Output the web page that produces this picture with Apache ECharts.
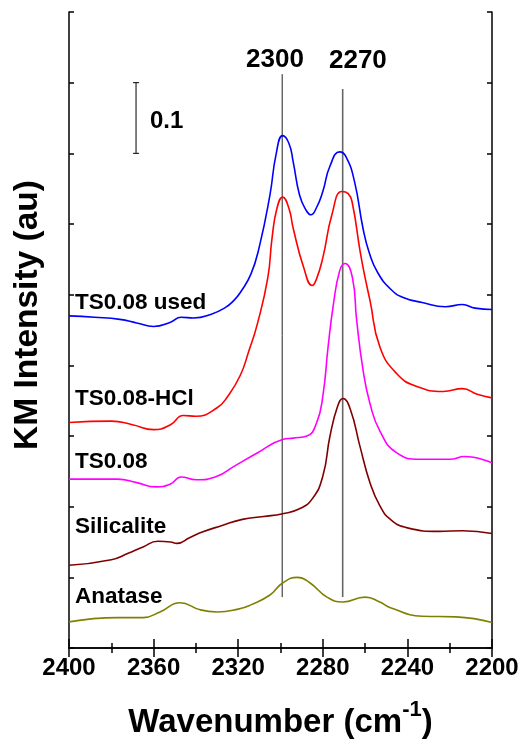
<!DOCTYPE html>
<html>
<head>
<meta charset="utf-8">
<script src="https://cdn.jsdelivr.net/npm/echarts@6/dist/echarts.min.js"></script>
<style>
html,body{margin:0;padding:0;background:#fff;}
#c{width:524px;height:744px;}
</style>
</head>
<body>
<div id="c"></div>
<script>
// ---- data (wavenumber in cm-1, KM intensity in au) ----
var usedX = [2400,2388,2376,2368,2360,2352,2347,2341,2333,2326,2322,2319,2314,2310,2305,2302,2299,2296,2294,2291,2288,2285.6,2283,2280,2276.6,2272,2269,2265,2261,2258,2254,2248,2242,2233,2222,2214,2208,2200];
var usedY = [0.470,0.468,0.465,0.460,0.455,0.461,0.468,0.467,0.472,0.482,0.492,0.503,0.529,0.568,0.641,0.700,0.725,0.714,0.688,0.641,0.620,0.613,0.623,0.646,0.682,0.702,0.695,0.660,0.594,0.559,0.531,0.508,0.496,0.489,0.483,0.486,0.481,0.479];

var hclX = [2400,2380,2370,2360,2352,2346,2340,2330,2325,2319,2315,2311,2306,2304,2301.7,2299,2296,2294,2289,2285,2283,2280,2275.7,2271,2268,2266,2262.4,2260,2257.7,2253,2245,2235.5,2223,2214,2207,2200];
var hclY = [0.319,0.321,0.316,0.309,0.316,0.329,0.328,0.340,0.356,0.386,0.420,0.458,0.524,0.580,0.622,0.638,0.622,0.594,0.538,0.513,0.522,0.552,0.613,0.646,0.643,0.629,0.562,0.524,0.492,0.426,0.388,0.370,0.363,0.367,0.359,0.354];

var ts08X = [2400,2377,2368,2359,2352,2347,2340,2330,2322,2311,2299,2294,2287.5,2283,2280,2277.5,2275,2272,2269.5,2266,2264,2261,2257.7,2253,2245,2234,2220,2213,2200];
var ts08Y = [0.239,0.239,0.234,0.228,0.232,0.242,0.238,0.243,0.257,0.276,0.295,0.297,0.300,0.318,0.356,0.426,0.486,0.534,0.544,0.524,0.464,0.394,0.346,0.307,0.276,0.267,0.267,0.271,0.262];

var silX = [2400,2380,2372,2365,2358,2352,2349,2343,2337,2328,2318,2308,2299,2291,2285,2280,2276.6,2273,2270.5,2267,2262.4,2257.7,2253,2248,2240,2225,2214,2200];
var silY = [0.117,0.125,0.134,0.143,0.151,0.150,0.148,0.156,0.164,0.173,0.182,0.186,0.190,0.197,0.211,0.243,0.300,0.342,0.353,0.338,0.285,0.234,0.201,0.182,0.170,0.165,0.166,0.162];

var anaX = [2400,2377,2365,2357,2347.5,2338,2330,2320,2314,2305,2299,2292,2286,2278,2270.5,2260,2253,2248,2233,2217,2200];
var anaY = [0.037,0.043,0.043,0.051,0.064,0.054,0.051,0.055,0.061,0.075,0.092,0.100,0.092,0.072,0.065,0.072,0.065,0.057,0.045,0.044,0.036];

var seriesNames = ['TS0.08 used','TS0.08-HCl','TS0.08','Silicalite','Anatase'];
var seriesColors = ['#0000ff','#ff0000','#ff00ff','#800000','#808000'];
var nameLabelY = [0.488,0.353,0.263,0.172,0.073];
var nameLabelX = 2397.2;

var peakLabels = ['2300','2270'];
var peakPos = [2299.2,2270.6];
var peakTop = [0.812,0.791];
var peakBottom = [0.072,0.072];
var peakLabelX = [2302.6,2263.4];
var peakLabelY = [0.832,0.831];

var scaleBarX = 2368.3;
var scaleBarRange = [0.70,0.80];
var scaleBarText = '0.1';
var scaleTextPos = [2361.7,0.745];

var xTicks = [2400,2360,2320,2280,2240,2200];

function pairs(xs, ys){ return xs.map(function(x,i){return [x, ys[i]];}); }

var FONT = '"Liberation Sans", Arial, sans-serif';
var chart = echarts.init(document.getElementById('c'), null, {renderer:'canvas'});

var curveData = [pairs(usedX,usedY), pairs(hclX,hclY), pairs(ts08X,ts08Y), pairs(silX,silY), pairs(anaX,anaY)];
var series = [];

// reference lines
peakPos.forEach(function(p,i){
  series.push({
    type:'line', xAxisIndex:0, yAxisIndex:0, silent:true, symbol:'none',
    data:[[p,peakTop[i]],[p,peakBottom[i]]],
    lineStyle:{color: i===0 ? '#222' : '#666', width: i===0 ? 1 : 1.6},
    z:1
  });
});

curveData.forEach(function(d,i){
  series.push({
    name: seriesNames[i], type:'line', xAxisIndex:0, yAxisIndex:0,
    data:d, symbol:'none', smooth:0.5,
    lineStyle:{color:seriesColors[i], width:1.6}, z:3
  });
});

// scale bar
series.push({
  type:'line', xAxisIndex:0, yAxisIndex:0, silent:true,
  data:[[scaleBarX,scaleBarRange[0]],[scaleBarX,scaleBarRange[1]]],
  symbol:'rect', symbolSize:[6,1], itemStyle:{color:'#000'},
  lineStyle:{color:'#000', width:1}, z:2
});

// text labels
var textData = [];
seriesNames.forEach(function(n,i){ textData.push({value:[nameLabelX,nameLabelY[i]], name:n, align:'left', size:22.5}); });
peakLabels.forEach(function(n,i){ textData.push({value:[peakLabelX[i],peakLabelY[i]], name:n, align:'center', size:26}); });
textData.push({value:scaleTextPos, name:scaleBarText, align:'left', size:24});

series.push({
  type:'scatter', xAxisIndex:0, yAxisIndex:0, silent:true, symbolSize:0,
  itemStyle:{opacity:1},
  data: textData.map(function(t){
    return {value:t.value, name:t.name,
      label:{show:true, formatter:t.name, position:[0,0], align:t.align, verticalAlign:'middle',
        fontFamily:FONT, fontWeight:'bold', fontSize:t.size, color:'#000', opacity:1}};
  }),
  z:5
});

var axisLine = {show:true, lineStyle:{color:'#000', width:1.5}};

chart.setOption({
  animation:false,
  backgroundColor:'#fff',
  grid:{left:69, right:32, top:12, bottom:91, containLabel:false},
  xAxis:[{
    type:'value', min:2200, max:2400, interval:40, inverse:true, position:'bottom',
    axisLine:axisLine,
    axisTick:{show:true, inside:true, length:9, lineStyle:{color:'#000', width:1.5}},
    minorTick:{show:true, splitNumber:2, length:5, lineStyle:{color:'#000', width:1.5}},
    splitLine:{show:false},
    axisLabel:{show:true, margin:8, fontFamily:FONT, fontWeight:'bold', fontSize:24, color:'#000',
      formatter:function(v){ return xTicks.indexOf(v) >= 0 ? String(v) : ''; }},
    name:'{a|Wavenumber (cm}{s|-1}{a|)}', nameLocation:'middle', nameGap:51,
    nameTextStyle:{rich:{
      a:{fontFamily:FONT, fontWeight:'bold', fontSize:33, color:'#000', lineHeight:40, verticalAlign:'bottom'},
      s:{fontFamily:FONT, fontWeight:'bold', fontSize:22, color:'#000', lineHeight:40, verticalAlign:'top'}
    }}
  },{
    type:'value', min:2200, max:2400, interval:40, inverse:true, position:'top',
    axisLine:axisLine,
    axisTick:{show:true, inside:true, length:9, lineStyle:{color:'#000', width:1.5}},
    minorTick:{show:true, splitNumber:2, length:5, lineStyle:{color:'#000', width:1.5}},
    splitLine:{show:false}, axisLabel:{show:false}
  }],
  yAxis:[{
    type:'value', min:0, max:0.9, interval:0.1, position:'left',
    axisLine:axisLine,
    axisTick:{show:true, inside:true, length:5, lineStyle:{color:'#000', width:1.5}},
    splitLine:{show:false}, axisLabel:{show:false},
    name:'KM Intensity (au)', nameLocation:'middle', nameGap:24,
    nameTextStyle:{fontFamily:FONT, fontWeight:'bold', fontSize:33.5, color:'#000', padding:[0,0,0,30]}
  },{
    type:'value', min:0, max:0.9, interval:0.1, position:'right',
    axisLine:axisLine,
    axisTick:{show:true, inside:true, length:5, lineStyle:{color:'#000', width:1.5}},
    splitLine:{show:false}, axisLabel:{show:false}
  }],
  series:series
});
</script>
</body>
</html>
